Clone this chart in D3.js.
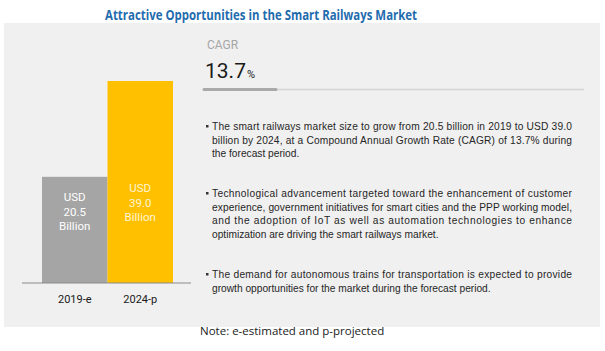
<!DOCTYPE html>
<html>
<head>
<meta charset="utf-8">
<script src="https://cdn.jsdelivr.net/npm/d3@7"></script>
<style>
  body { margin: 0; background: #fff; }
  svg { display: block; }
</style>
</head>
<body>
<div id="chart"></div>
<script>
var categories = ["2019-e", "2024-p"];
var values = [20.5, 39.0];
var barLabels = [["USD", "20.5", "Billion"], ["USD", "39.0", "Billion"]];
var cagr = "13.7";
var bullets = [
	["The smart railways market size to grow from 20.5 billion in 2019 to USD 39.0",
	 "billion by 2024, at a Compound Annual Growth Rate (CAGR) of 13.7% during",
	 "the forecast period."],
	["Technological advancement targeted toward the enhancement of customer",
	 "experience, government initiatives for smart cities and the PPP working model,",
	 "and the adoption of IoT as well as automation technologies to enhance",
	 "optimization are driving the smart railways market."],
	["The demand for autonomous trains for transportation is expected to provide",
	 "growth opportunities for the market during the forecast period."]
];

var width = 605, height = 351;

var svg = d3.select("#chart")
	.append("svg")
	.attr("width", width)
	.attr("height", height);

// title
svg.append("text")
	.attr("x", 261)
	.attr("y", 20)
	.attr("text-anchor", "middle")
	.attr("font-family", "Open Sans")
	.attr("font-weight", "bold")
	.attr("font-size", 13.5)
	.attr("textLength", 312)
	.attr("lengthAdjust", "spacingAndGlyphs")
	.attr("fill", "#1f6cae")
	.text("Attractive Opportunities in the Smart Railways Market");

// panel
svg.append("rect")
	.attr("x", 4)
	.attr("y", 23)
	.attr("width", 596)
	.attr("height", 304)
	.attr("fill", "#f0f0f0");

// bars
var xScale = d3.scaleBand()
	.domain(categories)
	.range([42, 173])
	.padding(0);

var yScale = d3.scaleLinear()
	.domain([0, 39])
	.range([283, 81]);

var colors = ["#a5a5a5", "#ffc000"];

svg.selectAll(".bar")
	.data(values)
	.enter()
	.append("rect")
	.attr("class", "bar")
	.attr("x", function(d, i) { return xScale(categories[i]); })
	.attr("y", function(d) { return yScale(d); })
	.attr("width", xScale.bandwidth())
	.attr("height", function(d) { return yScale(0) - yScale(d); })
	.attr("fill", function(d, i) { return colors[i]; });

// labels inside bars (distance of first line above the baseline)
var labelRise = [82, 91];
barLabels.forEach(function(lines, i) {
	var cx = xScale(categories[i]) + xScale.bandwidth() / 2;
	var t = svg.append("text")
		.attr("text-anchor", "middle")
		.attr("font-family", "Roboto")
		.attr("font-size", 11.5)
		.attr("fill", i == 0 ? "#ffffff" : "#fff4d6");
	lines.forEach(function(l, j) {
		t.append("tspan")
			.attr("x", cx)
			.attr("y", yScale(0) - labelRise[i] + j * 14.5)
			.text(l);
	});
});

// x axis
var xAxis = d3.axisBottom()
	.scale(xScale)
	.tickSizeInner(0)
	.tickSizeOuter(0)
	.tickPadding(12);

var axisG = svg.append("g")
	.attr("transform", "translate(0," + yScale(0) + ")")
	.call(xAxis);

axisG.select(".domain")
	.attr("d", "M" + (xScale.range()[0] - 20) + ",0H" + (xScale.range()[1] + 18))
	.attr("stroke", "#8a8a8a");

axisG.selectAll(".tick text")
	.attr("font-family", "Roboto")
	.attr("font-size", 11)
	.attr("fill", "#1a1a1a");

// CAGR block
svg.append("text")
	.attr("x", 207)
	.attr("y", 49)
	.attr("font-family", "Roboto")
	.attr("font-size", 12)
	.attr("fill", "#a6a6a6")
	.text("CAGR");

var cg = svg.append("text")
	.attr("x", 205)
	.attr("y", 78)
	.attr("font-family", "Roboto")
	.attr("fill", "#1a1a1a");
cg.append("tspan").attr("font-size", 21).text(cagr);
cg.append("tspan").attr("font-size", 11).attr("dx", 1).text("%");

svg.append("line")
	.attr("x1", 204).attr("x2", 584)
	.attr("y1", 89.5).attr("y2", 89.5)
	.attr("stroke", "#d4d4d4")
	.attr("stroke-width", 1.5);
svg.append("line")
	.attr("x1", 204).attr("x2", 276)
	.attr("y1", 89.5).attr("y2", 89.5)
	.attr("stroke", "#a9a9a9")
	.attr("stroke-width", 3)
	.attr("stroke-linecap", "round");

// bullets
var bulletTop = [130, 197, 278];
var textLeft = 212, textRight = 572, lineH = 13.6;

bullets.forEach(function(lines, b) {
	svg.append("rect")
		.attr("x", 206)
		.attr("y", bulletTop[b] - 5)
		.attr("width", 2.5)
		.attr("height", 2.5)
		.attr("fill", "#333");
	lines.forEach(function(l, j) {
		var t = svg.append("text")
			.attr("x", textLeft)
			.attr("y", bulletTop[b] + j * lineH)
			.attr("font-family", "Liberation Sans")
			.attr("font-size", 10.2)
			.attr("fill", "#262626")
			.text(l);
		if (j < lines.length - 1) {
			t.attr("textLength", textRight - textLeft)
				.attr("lengthAdjust", "spacing");
		}
	});
});

// note
svg.append("text")
	.attr("x", 200)
	.attr("y", 335)
	.attr("font-family", "Open Sans")
	.attr("font-size", 11.5)
	.attr("fill", "#1a1a1a")
	.text("Note: e-estimated and p-projected");
</script>
</body>
</html>
